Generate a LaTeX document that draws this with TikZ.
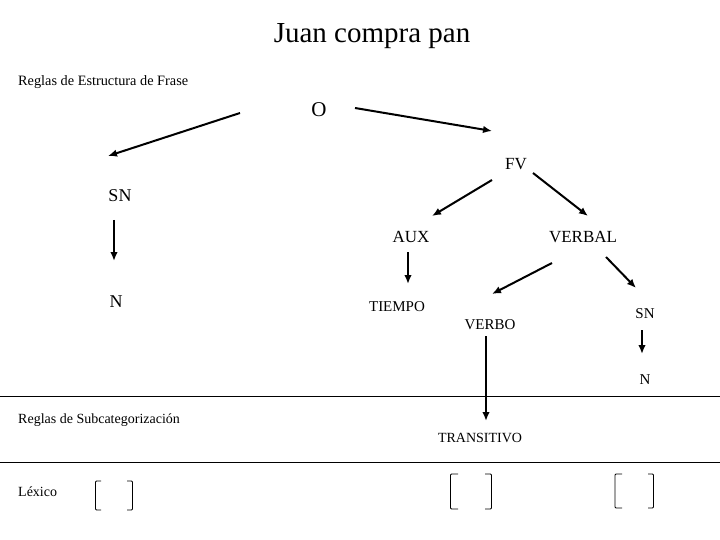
\documentclass[tikz,border=0pt]{standalone}
\usepackage{fontspec}
\setmainfont{Liberation Serif}
\usetikzlibrary{arrows.meta}
\tikzset{
  lbl/.style={inner sep=0pt, anchor=center},
  arr/.style={line width=2pt, -{Latex[length=9pt,width=7.5pt]}},
  sep/.style={line width=0.9pt},
  brk/.style={line width=0.8pt, rounded corners=1pt},
}
\newcommand{\fs}[1]{\fontsize{#1}{#1}\selectfont}
\begin{document}
\begin{tikzpicture}[x=1pt,y=-1pt]
\useasboundingbox (0,0) rectangle (720,540);
% texts
\node[lbl] (title) at (372,36) {\fs{29}Juan compra pan};
\node[lbl, anchor=west] (rep) at (18,82) {\fs{14.3}Reglas de Estructura de Frase};
\node[lbl] (O) at (319,110) {\fs{21}O};
\node[lbl] (FV) at (516,164) {\fs{17}FV};
\node[lbl] (SN1) at (120,196) {\fs{18}SN};
\node[lbl] (N1) at (116,302) {\fs{18}N};
\node[lbl] (AUX) at (411,237) {\fs{17}AUX};
\node[lbl] (VERBAL) at (583,237) {\fs{17}VERBAL};
\node[lbl] (TIEMPO) at (397,307) {\fs{15}TIEMPO};
\node[lbl] (VERBO) at (490,325) {\fs{15}VERBO};
\node[lbl] (SN2) at (645,314) {\fs{15}SN};
\node[lbl] (N2) at (645,380) {\fs{15}N};
\node[lbl] (TRANS) at (480,438) {\fs{14}TRANSITIVO};
\node[lbl, anchor=west] (rsc) at (18,420) {\fs{14}Reglas de Subcategorización};
\node[lbl, anchor=west] (lex) at (18,492) {\fs{14}Léxico};
% connector end points
\coordinate (O-a) at (240,113); \coordinate (SN1-a) at (108,156);
\coordinate (O-b) at (355,108); \coordinate (FV-a) at (492,131);
\coordinate (SN1-b) at (114,220); \coordinate (N1-a) at (114,261);
\coordinate (FV-b) at (492,180); \coordinate (AUX-a) at (432,216);
\coordinate (FV-c) at (533,173); \coordinate (VERBAL-a) at (588,216);
\coordinate (AUX-b) at (408,252); \coordinate (TIEMPO-a) at (408,284);
\coordinate (VERBAL-b) at (552,263); \coordinate (VERBO-a) at (492,294);
\coordinate (VERBAL-c) at (606,257); \coordinate (SN2-a) at (636,288);
\coordinate (SN2-b) at (642,330); \coordinate (N2-a) at (642,354);
\coordinate (VERBO-b) at (486,336); \coordinate (TRANS-a) at (486,421);
% arrows
\draw[arr] (O-a) -- (SN1-a);
\draw[arr] (O-b) -- (FV-a);
\draw[arr] (SN1-b) -- (N1-a);
\draw[arr] (FV-b) -- (AUX-a);
\draw[arr] (FV-c) -- (VERBAL-a);
\draw[arr] (AUX-b) -- (TIEMPO-a);
\draw[arr] (VERBAL-b) -- (VERBO-a);
\draw[arr] (VERBAL-c) -- (SN2-a);
\draw[arr] (SN2-b) -- (N2-a);
\draw[arr] (VERBO-b) -- (TRANS-a);
% separators
\draw[sep] (0,396) -- (720,396);
\draw[sep] (0,462.5) -- (720,462.5);
% brackets
\draw[brk] (101,481) -- (95.5,481) -- (95.5,510) -- (101,510);
\draw[brk] (127,481) -- (132.5,481) -- (132.5,510) -- (127,510);
\draw[brk] (458,474) -- (450.5,474) -- (450.5,509) -- (458,509);
\draw[brk] (485,474) -- (491.5,474) -- (491.5,509) -- (485,509);
\draw[brk] (622,474) -- (615,474) -- (615,508) -- (622,508);
\draw[brk] (648,474) -- (653.5,474) -- (653.5,508) -- (648,508);
\end{tikzpicture}
\end{document}
